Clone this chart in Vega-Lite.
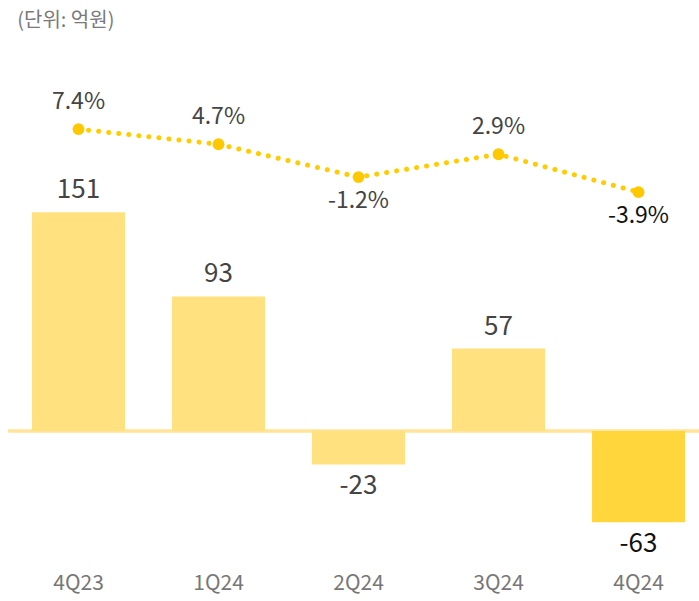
{
  "$schema": "https://vega.github.io/schema/vega-lite/v6.json",
  "autosize": "none",
  "width": 700,
  "height": 520,
  "padding": {"left": 8.5, "top": 40, "right": 0, "bottom": 41},
  "background": "white",
  "title": {"text": "(단위: 억원)", "anchor": "start", "orient": "top", "font": "Noto Sans CJK KR", "fontSize": 20, "fontWeight": "normal", "color": "#7a7a7a", "dx": 10, "offset": 14, "dy": 25, "baseline": "bottom"},
  "config": {"view": {"stroke": null}, "font": "Noto Sans CJK KR"},
  "data": {"values": [
    {"q": "4Q23", "v": 151, "vl": "151", "p": 7.4, "pl": "7.4%"},
    {"q": "1Q24", "v": 93, "vl": "93", "p": 4.7, "pl": "4.7%"},
    {"q": "2Q24", "v": -23, "vl": "-23", "p": -1.2, "pl": "-1.2%"},
    {"q": "3Q24", "v": 57, "vl": "57", "p": 2.9, "pl": "2.9%"},
    {"q": "4Q24", "v": -63, "vl": "-63", "p": -3.9, "pl": "-3.9%"}
  ]},
  "encoding": {
    "x": {"field": "q", "type": "nominal", "sort": null,
      "scale": {"paddingInner": 0.336, "paddingOuter": 0.168},
      "axis": {"title": null, "domain": false, "ticks": false, "labelAngle": 0, "labelFontSize": 21, "labelColor": "#777777", "labelPadding": 12, "labelFont": "Noto Sans CJK KR"}}
  },
  "layer": [
    {
      "encoding": {"y": {"field": "v", "type": "quantitative", "scale": {"domain": [-89, 270], "nice": false, "zero": false}, "axis": null}},
      "layer": [
        {"mark": {"type": "rule", "color": "#FFE49A", "strokeWidth": 2.5}, "encoding": {"x": null, "y": {"datum": 0}}},
        {"mark": {"type": "bar"},
          "encoding": {"color": {"condition": {"test": "datum.q === '4Q24'", "value": "#FFD73D"}, "value": "#FFE17F"}}},
        {"transform": [{"filter": "datum.v >= 0"}],
          "mark": {"type": "text", "baseline": "bottom", "dy": -9, "fontSize": 26, "color": "#444444"},
          "encoding": {"text": {"field": "vl", "type": "nominal"}}},
        {"transform": [{"filter": "datum.v < 0"}],
          "mark": {"type": "text", "baseline": "top", "dy": 9, "fontSize": 26},
          "encoding": {"text": {"field": "vl", "type": "nominal"},
            "color": {"condition": {"test": "datum.q === '4Q24'", "value": "#111111"}, "value": "#444444"}}}
      ]
    },
    {
      "encoding": {"y": {"field": "p", "type": "quantitative", "scale": {"domain": [-69.9, 23.4], "nice": false, "zero": false}, "axis": null}},
      "layer": [
        {"mark": {"type": "line", "color": "#FFCC00", "strokeWidth": 5, "strokeDash": [0.1, 10], "strokeCap": "round"}},
        {"mark": {"type": "point", "filled": true, "opacity": 1, "size": 140, "color": "#FFC800"}},
        {"transform": [{"filter": "datum.p >= 0"}],
          "mark": {"type": "text", "baseline": "bottom", "dy": -15, "fontSize": 23, "color": "#444444"},
          "encoding": {"text": {"field": "pl", "type": "nominal"}}},
        {"transform": [{"filter": "datum.p < 0"}],
          "mark": {"type": "text", "baseline": "top", "dy": 13, "fontSize": 23},
          "encoding": {"text": {"field": "pl", "type": "nominal"},
            "color": {"condition": {"test": "datum.q === '4Q24'", "value": "#111111"}, "value": "#444444"}}}
      ]
    }
  ],
  "resolve": {"scale": {"y": "independent"}}
}
